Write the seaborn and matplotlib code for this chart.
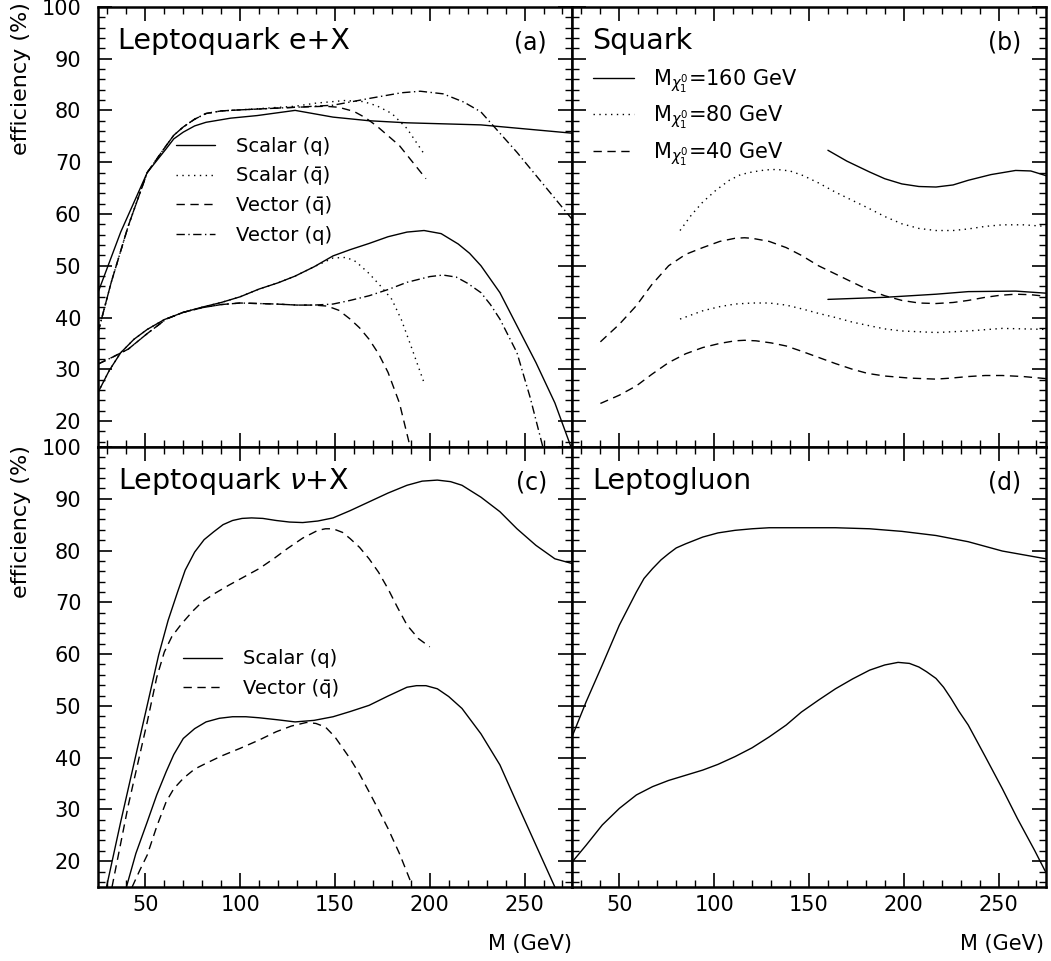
import matplotlib
matplotlib.use("Agg")
import matplotlib.pyplot as plt
from matplotlib.lines import Line2D
from matplotlib.ticker import MultipleLocator
import seaborn as sns

# ---- panel (a): Leptoquark e+X, upper and lower curve of each type
a_solid_hi_m = [25, 37, 51, 61, 65, 70, 76, 82, 95, 109, 129, 149, 168, 188, 227, 275]
a_solid_hi_v = [44.8, 56.5, 68, 72.6, 74.5, 75.8, 77, 77.7, 78.5, 79, 80, 78.7, 78, 77.6, 77.2, 75.6]
a_dd_hi_m = [25, 32, 41, 51, 61, 65, 70, 76, 82, 90, 100, 129, 149, 168, 185, 195, 207, 218, 227, 246, 275]
a_dd_hi_v = [37.1, 46.8, 57.7, 68, 73.2, 75.2, 76.8, 78.3, 79.4, 79.9, 80.1, 80.6, 81, 82.3, 83.4, 83.7, 83.2, 81.6, 79.7, 71.9, 59.0]
a_dot_hi_m = [25, 32, 41, 51, 61, 65, 70, 76, 82, 90, 100, 129, 140, 155, 165, 172, 180, 188, 197]
a_dot_hi_v = [37.1, 46.8, 57.7, 68, 73.2, 75.2, 76.8, 78.3, 79.4, 79.9, 80.1, 80.8, 81.4, 81.9, 81.7, 80.9, 79.4, 76.5, 71.6]
a_dash_hi_m = [25, 32, 41, 51, 61, 65, 70, 76, 82, 90, 100, 129, 145, 152, 160, 166, 172, 184, 198]
a_dash_hi_v = [37.1, 46.8, 57.7, 68, 73.2, 75.2, 76.8, 78.3, 79.4, 79.9, 80.1, 80.6, 80.8, 80.6, 79.8, 78.6, 77, 73.2, 66.8]

a_solid_lo_m = [25, 31, 37, 44, 51, 60, 70, 80, 90, 100, 110, 120, 129, 139, 149, 158, 168, 178, 188, 197, 206, 215, 221, 227, 237, 246, 256, 266, 275]
a_solid_lo_v = [25.5, 29.8, 33.2, 35.8, 37.7, 39.6, 41, 42, 42.9, 44.0, 45.5, 46.7, 48, 49.8, 51.9, 53.1, 54.3, 55.6, 56.5, 56.8, 56.2, 54.2, 52.4, 50, 44.8, 38.4, 31.3, 23.5, 14.5]
a_dd_lo_m = [25, 33, 41, 51, 61, 70, 80, 90, 100, 119, 130, 139, 149, 158, 168, 178, 188, 200, 207, 214, 220, 227, 232, 237, 246, 253, 260]
a_dd_lo_v = [31, 32.4, 33.9, 36.9, 39.7, 41.0, 41.9, 42.5, 42.8, 42.6, 42.4, 42.4, 42.6, 43.3, 44.2, 45.4, 46.8, 47.9, 48.2, 47.8, 46.6, 44.8, 42.5, 39.7, 33.2, 24.5, 14.5]
a_dot_lo_m = [25, 31, 37, 44, 51, 60, 70, 80, 90, 100, 110, 120, 129, 139, 149, 156, 161, 168, 174, 180, 185, 190, 197]
a_dot_lo_v = [25.5, 29.8, 33.2, 35.8, 37.7, 39.6, 41, 42, 42.9, 44.0, 45.5, 46.7, 48, 49.8, 51.5, 51.6, 50.8, 48.5, 46.1, 43.5, 39.6, 34.6, 27.4]
a_dash_lo_m = [25, 33, 41, 51, 61, 70, 80, 90, 100, 119, 130, 139, 146, 152, 158, 163, 168, 173, 178, 184, 190]
a_dash_lo_v = [31, 32.4, 33.9, 36.9, 39.7, 41.0, 41.9, 42.5, 42.8, 42.6, 42.4, 42.4, 42.2, 41.4, 39.7, 38.0, 35.8, 33.0, 29.4, 23.5, 14.5]

# ---- panel (b): Squark, three neutralino masses
b_160_hi_m = [160, 170, 182, 190, 199, 208, 217, 226, 234, 246, 259, 267, 275]
b_160_hi_v = [72.3, 70.2, 68.1, 66.8, 65.8, 65.3, 65.2, 65.6, 66.5, 67.6, 68.4, 68.3, 67.4]
b_160_lo_m = [160, 190, 217, 234, 259, 275]
b_160_lo_v = [43.5, 43.9, 44.5, 45, 45.1, 44.7]
b_80_hi_m = [82, 88, 94, 101, 108, 114, 120, 127, 133, 140, 147, 155, 164, 173, 182, 190, 199, 208, 217, 226, 234, 243, 252, 263, 275]
b_80_hi_v = [56.8, 59.8, 62.3, 64.6, 66.5, 67.6, 68.1, 68.5, 68.6, 68.3, 67.4, 66.0, 64.2, 62.6, 61, 59.5, 58.1, 57.2, 56.8, 56.8, 57.1, 57.6, 57.9, 57.9, 57.6]
b_80_lo_m = [82, 94, 103, 111, 120, 129, 138, 147, 155, 164, 173, 182, 190, 199, 217, 234, 252, 275]
b_80_lo_v = [39.7, 41.3, 42.1, 42.6, 42.8, 42.8, 42.4, 41.6, 40.8, 40, 39.1, 38.4, 37.8, 37.4, 37.1, 37.4, 37.9, 37.7]
b_40_hi_m = [40, 50, 59, 67, 76, 85, 94, 103, 111, 116, 120, 129, 138, 146, 155, 164, 173, 181, 190, 199, 208, 217, 226, 234, 243, 251, 259, 267, 275]
b_40_hi_v = [35.3, 38.7, 42.3, 46.3, 50, 52.2, 53.5, 54.7, 55.3, 55.4, 55.3, 54.7, 53.5, 52.0, 50, 48.4, 46.8, 45.4, 44.2, 43.3, 42.8, 42.7, 42.9, 43.3, 43.9, 44.3, 44.5, 44.4, 44.1]
b_40_lo_m = [40, 50, 59, 67, 76, 85, 94, 103, 111, 116, 122, 130, 138, 146, 155, 164, 173, 181, 190, 203, 217, 225, 234, 243, 252, 263, 275]
b_40_lo_v = [23.4, 25.0, 26.8, 29.0, 31.3, 33.0, 34.2, 35.0, 35.5, 35.6, 35.5, 35.1, 34.5, 33.5, 32.3, 31.1, 30, 29.2, 28.7, 28.3, 28.1, 28.3, 28.6, 28.8, 28.8, 28.6, 28.2]

# ---- panel (c): Leptoquark nu+X
c_solid_hi_m = [29.5, 37, 47, 57, 62, 67, 71, 76, 81, 86, 91, 96, 101, 106, 112, 119, 126, 133, 141, 149, 158, 168, 178, 188, 196, 204, 211, 217, 227, 237, 246, 256, 266, 275]
c_solid_hi_v = [15, 27.6, 43.7, 59.8, 66.5, 72, 76.2, 79.7, 82.1, 83.6, 85.0, 85.8, 86.2, 86.3, 86.2, 85.8, 85.5, 85.4, 85.7, 86.3, 87.7, 89.4, 91.1, 92.6, 93.4, 93.6, 93.3, 92.6, 90.3, 87.5, 84.2, 81, 78.4, 77.5]
c_dash_hi_m = [32.4, 41, 51, 56, 60, 64, 69, 75, 80, 87, 94, 102, 110, 118, 125, 133, 141, 145, 149, 154, 158, 163, 168, 173, 178, 183, 188, 194, 200]
c_dash_hi_v = [15, 30.8, 46.9, 55.5, 60.4, 63.4, 65.8, 68.3, 70.1, 71.8, 73.3, 74.9, 76.5, 78.5, 80.4, 82.4, 83.9, 84.2, 84.2, 83.5, 82.3, 80.6, 78.4, 75.8, 72.6, 69.0, 65.6, 63.0, 61.4]
c_solid_lo_m = [40, 45, 51, 56, 61, 65, 70, 76, 82, 89, 96, 103, 110, 120, 129, 139, 149, 158, 168, 178, 188, 193, 198, 204, 210, 217, 227, 237, 246, 256, 266]
c_solid_lo_v = [15, 21.5, 27.6, 32.8, 37.3, 40.6, 43.7, 45.6, 46.9, 47.6, 47.9, 47.9, 47.7, 47.3, 46.9, 47.2, 47.9, 48.9, 50.1, 51.9, 53.6, 53.9, 53.9, 53.3, 51.8, 49.5, 44.6, 38.6, 31.2, 23.1, 15]
c_dash_lo_m = [43, 47, 51, 56, 61, 65, 70, 76, 82, 90, 100, 110, 119, 127, 135, 140, 145, 150, 158, 163, 168, 173, 178, 184, 190]
c_dash_lo_v = [15, 18.2, 21.2, 26.7, 31.5, 34, 36, 37.8, 38.9, 40.3, 41.8, 43.4, 45, 46.1, 46.8, 46.6, 45.9, 44.0, 39.8, 36.8, 33.4, 29.9, 26.3, 21.5, 16]

# ---- panel (d): Leptogluon
d_hi_m = [25, 32.5, 41, 50, 59, 63, 67.5, 72, 76, 80, 85, 94, 102, 111, 120, 129, 146, 164, 182, 199, 217, 234, 252, 275]
d_hi_v = [44, 50.8, 57.9, 65.6, 72, 74.6, 76.5, 78.2, 79.4, 80.5, 81.3, 82.6, 83.4, 83.9, 84.2, 84.4, 84.4, 84.4, 84.2, 83.7, 82.9, 81.7, 79.9, 78.4]
d_lo_m = [25, 32.5, 41, 50, 59, 67.5, 76, 85, 94, 102, 111, 120, 129, 138, 146, 155, 164, 173, 182, 190, 197, 203, 208, 212, 217, 221, 225, 229, 234, 243, 252, 260, 269, 275]
d_lo_v = [19.8, 23.1, 27, 30.2, 32.8, 34.4, 35.6, 36.6, 37.6, 38.7, 40.2, 41.9, 44, 46.3, 48.8, 51.1, 53.3, 55.2, 56.9, 57.9, 58.4, 58.2, 57.5, 56.6, 55.3, 53.6, 51.4, 49.0, 46.3, 40.2, 34, 28.2, 22.1, 17.8]

SOLID = "-"
DOT = (0, (1, 3.2))
DASH = (0, (6, 4))
DDOT = (0, (6, 2.5, 1, 2.5))

sns.set_theme(style="ticks")
plt.rcParams["font.family"] = ["DejaVu Sans"]
plt.rcParams["mathtext.fontset"] = "dejavusans"
plt.rcParams["text.color"] = "black"
plt.rcParams["xtick.color"] = "black"
plt.rcParams["ytick.color"] = "black"
plt.rcParams["xtick.labelcolor"] = "black"
plt.rcParams["ytick.labelcolor"] = "black"

fig = plt.figure(figsize=(10.51, 9.61), dpi=100)
W, H = 0.451, 0.458
ax_a = fig.add_axes([0.0932, 0.5349, W, H])
ax_b = fig.add_axes([0.0932 + W, 0.5349, W, H])
ax_c = fig.add_axes([0.0932, 0.5349 - H, W, H])
ax_d = fig.add_axes([0.0932 + W, 0.5349 - H, W, H])


def curve(ax, m, v, ls):
    sns.lineplot(x=m, y=v, ax=ax, color="black", lw=1.0, linestyle=ls,
                 sort=False, estimator=None)


for m, v, ls in [(a_solid_hi_m, a_solid_hi_v, SOLID), (a_dd_hi_m, a_dd_hi_v, DDOT),
                 (a_dot_hi_m, a_dot_hi_v, DOT), (a_dash_hi_m, a_dash_hi_v, DASH),
                 (a_solid_lo_m, a_solid_lo_v, SOLID), (a_dd_lo_m, a_dd_lo_v, DDOT),
                 (a_dot_lo_m, a_dot_lo_v, DOT), (a_dash_lo_m, a_dash_lo_v, DASH)]:
    curve(ax_a, m, v, ls)

for m, v, ls in [(b_160_hi_m, b_160_hi_v, SOLID), (b_160_lo_m, b_160_lo_v, SOLID),
                 (b_80_hi_m, b_80_hi_v, DOT), (b_80_lo_m, b_80_lo_v, DOT),
                 (b_40_hi_m, b_40_hi_v, DASH), (b_40_lo_m, b_40_lo_v, DASH)]:
    curve(ax_b, m, v, ls)

for m, v, ls in [(c_solid_hi_m, c_solid_hi_v, SOLID), (c_dash_hi_m, c_dash_hi_v, DASH),
                 (c_solid_lo_m, c_solid_lo_v, SOLID), (c_dash_lo_m, c_dash_lo_v, DASH)]:
    curve(ax_c, m, v, ls)

curve(ax_d, d_hi_m, d_hi_v, SOLID)
curve(ax_d, d_lo_m, d_lo_v, SOLID)

for ax in (ax_a, ax_b, ax_c, ax_d):
    ax.set_xlim(25, 275)
    ax.set_ylim(15, 100)
    ax.set_xlabel("")
    ax.set_ylabel("")
    ax.xaxis.set_major_locator(MultipleLocator(50))
    ax.xaxis.set_minor_locator(MultipleLocator(10))
    ax.yaxis.set_major_locator(MultipleLocator(10))
    ax.yaxis.set_minor_locator(MultipleLocator(2))
    ax.tick_params(which="both", direction="in", top=True, right=True,
                   color="black", labelsize=15)
    ax.tick_params(axis="x", pad=6)
    ax.tick_params(axis="y", pad=12)
    ax.tick_params(which="major", length=10, width=1.2)
    ax.tick_params(which="minor", length=5, width=1.0)
    for s in ax.spines.values():
        s.set_linewidth(1.8)
        s.set_color("black")
    ax.set_facecolor("white")

for ax in (ax_a, ax_b):
    ax.tick_params(labelbottom=False)
for ax in (ax_b, ax_d):
    ax.tick_params(labelleft=False)

fs_title = 20.5
ax_a.text(0.043, 0.923, r"Leptoquark e+X", transform=ax_a.transAxes, fontsize=fs_title, va="center")
ax_b.text(0.043, 0.923, "Squark", transform=ax_b.transAxes, fontsize=fs_title, va="center")
ax_c.text(0.043, 0.923, r"Leptoquark $\nu$+X", transform=ax_c.transAxes, fontsize=fs_title, va="center")
ax_d.text(0.043, 0.923, "Leptogluon", transform=ax_d.transAxes, fontsize=fs_title, va="center")
for ax, lab in ((ax_a, "(a)"), (ax_b, "(b)"), (ax_c, "(c)"), (ax_d, "(d)")):
    ax.text(0.947, 0.92, lab, transform=ax.transAxes, fontsize=17, va="center", ha="right")


def handle(ls):
    return Line2D([], [], color="black", lw=1.0, linestyle=ls)


leg_kw = dict(frameon=False, fontsize=14, handlelength=2.0, handletextpad=1.1,
              borderpad=0, borderaxespad=0, labelspacing=0.55, labelcolor="black")
ax_a.legend([handle(SOLID), handle(DOT), handle(DASH), handle(DDOT)],
            ["Scalar (q)", "Scalar (q\u0304)", "Vector (q\u0304)", "Vector (q)"],
            loc="upper left", bbox_to_anchor=(0.165, 0.705), **leg_kw)
ax_b.legend([handle(SOLID), handle(DOT), handle(DASH)],
            [r"M$_{\chi_1^0}$=160 GeV", r"M$_{\chi_1^0}$=80 GeV", r"M$_{\chi_1^0}$=40 GeV"],
            loc="upper left", bbox_to_anchor=(0.044, 0.862),
            **{**leg_kw, "fontsize": 15, "labelspacing": 0.4, "handletextpad": 0.9})
ax_c.legend([handle(SOLID), handle(DASH)], ["Scalar (q)", "Vector (q\u0304)"],
            loc="upper left", bbox_to_anchor=(0.179, 0.54), **leg_kw)

# axis titles
fig.text(0.02, 0.998, "efficiency (%)", rotation=90, ha="center", va="top", fontsize=16)
fig.text(0.02, 0.537, "efficiency (%)", rotation=90, ha="center", va="top", fontsize=16)
fig.text(0.0932 + W, 0.018, "M (GeV)", ha="right", va="center", fontsize=15)
fig.text(0.0932 + 2 * W - 0.002, 0.018, "M (GeV)", ha="right", va="center", fontsize=15)

fig.savefig("out.png", dpi=100, facecolor="white")
